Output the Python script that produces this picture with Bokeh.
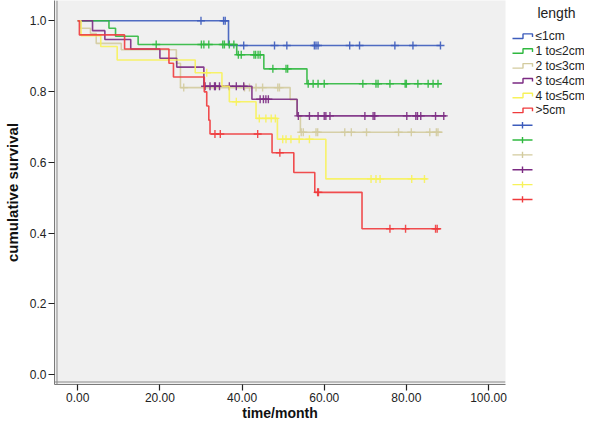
from bokeh.plotting import figure
from bokeh.layouts import row
from bokeh.models import Range1d, FixedTicker, PrintfTickFormatter, Span
from bokeh.core.properties import value
from bokeh.embed import file_html
from bokeh.resources import INLINE

# ---------------- data ----------------
groups = ["≤1cm", "1 to≤2cm", "2 to≤3cm", "3 to≤4cm", "4 to≤5cm", ">5cm"]
colors = ["#3d5cbc", "#2fb83f", "#d3cb9e", "#7b2a82", "#f7f25a", "#ef3a3c"]

blue_t = [36.7]
blue_s = [0.930]
blue_c = [30.0, 35.5, 35.9, 40.4, 47.9, 50.9, 57.6, 58.0, 58.5, 66.2, 68.6, 77.2, 81.6, 88.3]
blue_end = 88.3

green_t = [7.6, 9.2, 14.7, 38.7, 45.3, 55.8]
green_s = [0.979, 0.956, 0.933, 0.904, 0.864, 0.822]
green_c = [19.1, 30.1, 30.7, 31.9, 35.3, 35.7, 36.9, 38.0, 39.1, 39.8, 42.9, 43.3,
           43.9, 44.4, 47.5, 50.7, 51.1, 56.1, 57.3, 58.5, 60.0, 69.4, 72.6, 73.1,
           76.0, 79.7, 80.0, 82.8, 85.3, 86.5, 87.7]
green_end = 88.5

tan_t = [0.7, 3.1, 4.5, 10.6, 24.0, 25.0, 51.7, 53.4, 54.2]
tan_s = [0.979, 0.964, 0.936, 0.918, 0.880, 0.811, 0.777, 0.731, 0.685]
tan_c = [25.8, 40.6, 41.8, 43.4, 45.0, 48.7, 49.1, 54.4, 54.9, 58.0, 58.4, 65.0,
         66.6, 70.3, 78.1, 81.2, 85.7, 87.3, 87.7]
tan_end = 88.8

purple_t = [3.6, 6.6, 12.9, 20.0, 24.1, 30.7, 42.4, 53.4]
purple_s = [0.972, 0.947, 0.920, 0.894, 0.869, 0.815, 0.778, 0.731]
purple_c = [31.0, 32.2, 33.3, 33.5, 34.5, 36.9, 38.6, 40.4, 44.4, 45.2, 45.8, 46.4,
            53.7, 56.4, 58.5, 60.0, 60.4, 61.4, 69.9, 71.9, 72.3, 80.1, 82.3, 82.7,
            83.5, 87.1, 89.1]
purple_end = 89.7

yellow_t = [0.8, 5.6, 9.6, 28.6, 35.1, 36.9, 43.4, 48.6, 60.4]
yellow_s = [0.958, 0.927, 0.889, 0.853, 0.815, 0.771, 0.724, 0.665, 0.553]
yellow_c = [31.4, 38.6, 44.2, 45.8, 47.1, 48.1, 49.9, 50.7, 51.9, 53.9, 56.4, 71.4,
            72.6, 73.6, 81.3, 84.4]
yellow_end = 85.1

red_t = [0.4, 11.4, 22.2, 23.3, 30.8, 31.4, 31.9, 32.2, 47.3, 52.6, 57.7, 69.2]
red_s = [0.960, 0.920, 0.880, 0.841, 0.799, 0.759, 0.719, 0.680, 0.627, 0.571, 0.515, 0.412]
red_c = [33.4, 34.7, 43.8, 49.2, 58.4, 58.6, 76.0, 79.8, 87.1, 87.5]
red_end = 88.3

x_ticks = [0, 20, 40, 60, 80, 100]
y_ticks = [0.0, 0.2, 0.4, 0.6, 0.8, 1.0]

series = [
    (blue_t, blue_s, blue_c, blue_end),
    (green_t, green_s, green_c, green_end),
    (tan_t, tan_s, tan_c, tan_end),
    (purple_t, purple_s, purple_c, purple_end),
    (yellow_t, yellow_s, yellow_c, yellow_end),
    (red_t, red_s, red_c, red_end),
]

FONT = "Liberation Sans"

# ---------------- layout constants (pixels) ----------------
H = 423
LEFT, RIGHT, RBORDER = 53, 505, 3
BOTTOM_BORDER = 38
FRAME_BOTTOM = H - BOTTOM_BORDER
ZERO_X, PX_X = 76.3, 4.117
ONE_Y, ZERO_Y = 20.3, 375.0
PX_Y = ZERO_Y - ONE_Y
W1 = RIGHT + RBORDER

x0 = (LEFT - ZERO_X) / PX_X
x1 = (RIGHT - ZERO_X) / PX_X
y1 = 1 + ONE_Y / PX_Y
y0 = -(FRAME_BOTTOM - ZERO_Y) / PX_Y

p = figure(width=W1, height=H, output_backend="svg", toolbar_location=None,
           x_range=Range1d(x0, x1), y_range=Range1d(y0, y1),
           min_border_left=LEFT, min_border_right=RBORDER, min_border_top=0,
           min_border_bottom=BOTTOM_BORDER)
p.background_fill_color = "#f0f0f0"
p.border_fill_color = "white"
p.outline_line_color = None
p.grid.visible = False

def level_at(t, ev_t, ev_s):
    lv = 1.0
    for et, es in zip(ev_t, ev_s):
        if et <= t:
            lv = es
    return lv

for (ev_t, ev_s, cen, end), col in zip(series, colors):
    xs = [0.0] + ev_t + [end]
    ys = [1.0] + ev_s + [ev_s[-1]]
    p.step(xs, ys, mode="after", line_color=col, line_width=1.6, line_alpha=0.9)
    cy = [level_at(t, ev_t, ev_s) for t in cen]
    p.scatter(cen, cy, marker="cross", size=8, line_color=col, line_width=1.4, line_alpha=0.9)

# double frame line look
p.add_layout(Span(location=x0 + 2.5 / PX_X, dimension="height", line_color="#8a8a8a", line_width=1))
p.add_layout(Span(location=y0 + 2.5 / PX_Y, dimension="width", line_color="#8a8a8a", line_width=1))

for ax in (p.xaxis[0], p.yaxis[0]):
    ax.axis_line_color = "#7a7a7a"
    ax.major_tick_line_color = "#222222"
    ax.major_tick_line_width = 1.2
    ax.major_tick_out = 6
    ax.major_tick_in = 0
    ax.minor_tick_line_color = None
    ax.major_label_text_font = FONT
    ax.major_label_text_font_size = "12px"
    ax.major_label_text_color = "#222222"
    ax.axis_label_text_font = FONT
    ax.axis_label_text_font_style = "bold"
    ax.axis_label_text_color = "#111111"
    ax.major_label_standoff = 2

p.xaxis.ticker = FixedTicker(ticks=x_ticks)
p.xaxis.formatter = PrintfTickFormatter(format="%.2f")
p.xaxis.axis_label = "time/month"
p.xaxis.axis_label_text_font_size = "14px"
p.xaxis.axis_label_standoff = 0
p.yaxis.ticker = FixedTicker(ticks=y_ticks)
p.yaxis.formatter = PrintfTickFormatter(format="%.1f")
p.yaxis.axis_label = "cumulative survival"
p.yaxis.axis_label_text_font_size = "15px"
p.yaxis.axis_label_standoff = 6

# ---------------- legend panel (pixel coordinates) ----------------
W2 = 584 - W1
lg = figure(width=W2, height=H, output_backend="svg", toolbar_location=None,
            x_range=Range1d(W1, 584), y_range=Range1d(H, 0),
            x_axis_location=None, y_axis_location=None,
            min_border=0)
lg.outline_line_color = None
lg.grid.visible = False
lg.background_fill_color = "white"
lg.border_fill_color = "white"

lg.text(x=[556], y=[14], text=["length"], text_align="center", text_baseline="middle",
        text_font=value(FONT), text_font_size="14px", text_color="#222222")

rows_y = [39.3 + 16.35 * i for i in range(12)]
SW0, SWM, SW1, TX = 512, 522.5, 532, 535
for i, col in enumerate(colors):
    r = rows_y[i]
    lg.line([SW0, SWM, SWM, SW1, SW1], [r + 2.5, r + 2.5, r - 2.5, r - 2.5, r + 1],
            line_color=col, line_width=1.4)
lg.text(x=[TX] * 6, y=rows_y[:6], text=groups, text_baseline="middle",
        text_font=value(FONT), text_font_size="12px", text_color="#222222")
for i, col in enumerate(colors):
    r = rows_y[6 + i]
    lg.segment(x0=[SW0], y0=[r], x1=[SW1], y1=[r], line_color=col, line_width=1.4)
    lg.segment(x0=[(SW0 + SW1) / 2], y0=[r - 3.5], x1=[(SW0 + SW1) / 2], y1=[r + 3.5],
               line_color=col, line_width=1.4)

layout = row(p, lg)
open("out.html", "w").write(file_html(layout, INLINE))
